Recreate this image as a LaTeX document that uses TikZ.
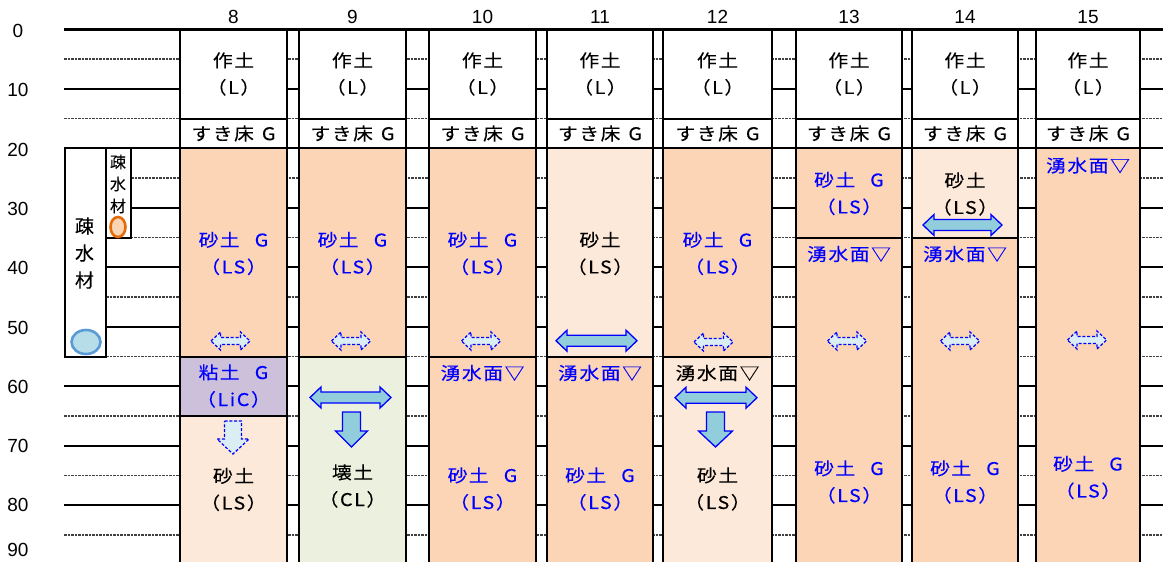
\documentclass[tikz,border=0pt]{standalone}
\usepackage{fontspec}
\setmainfont{Liberation Sans}
\newfontfamily\jp[FakeStretch=1.13,LetterSpace=9,FakeBold=0.15]{Noto Sans CJK JP}
\newfontfamily\jpv[FakeBold=0.15]{Noto Sans CJK JP}
\usetikzlibrary{shapes.geometric}
\definecolor{pkD}{HTML}{FBD5B5}
\definecolor{pkL}{HTML}{FDE9D9}
\definecolor{puC}{HTML}{CCC0DA}
\definecolor{grC}{HTML}{EBF1DE}
\definecolor{arF}{HTML}{92CDDC}
\definecolor{arL}{HTML}{DAEEF3}
\definecolor{bT}{HTML}{0000FF}
\definecolor{elB}{HTML}{5B9BD5}
\definecolor{elBf}{HTML}{B7DEE8}
\definecolor{elO}{HTML}{E36C09}
\definecolor{elOf}{HTML}{FBD4B4}
\newcommand\yd[1]{29.3+5.95*#1}
\newcommand\lay[5]{\filldraw[fill=#5,colline] (#1,{\yd{#3}}) rectangle (#2,{\yd{#4}});}
\newcommand\sG[1]{#1\hspace{15pt}G}
% double arrow: cx cy L H S headlen style
\newcommand\dbarrow[7]{\begin{scope}[shift={(#1,#2)}]\filldraw[#7] ({-#3/2},0) -- ({-#3/2+#6},{-#4/2}) -- ({-#3/2+#6},{-#5/2}) -- ({#3/2-#6},{-#5/2}) -- ({#3/2-#6},{-#4/2}) -- ({#3/2},0) -- ({#3/2-#6},{#4/2}) -- ({#3/2-#6},{#5/2}) -- ({-#3/2+#6},{#5/2}) -- ({-#3/2+#6},{#4/2}) -- cycle;\end{scope}}
% down arrow: cx cy W L S headlen style
\newcommand\dnarrow[7]{\begin{scope}[shift={(#1,#2)}]\filldraw[#7] ({-#5/2},{-#4/2}) -- ({#5/2},{-#4/2}) -- ({#5/2},{#4/2-#6}) -- ({#3/2},{#4/2-#6}) -- (0,{#4/2}) -- ({-#3/2},{#4/2-#6}) -- ({-#5/2},{#4/2-#6}) -- cycle;\end{scope}}
\begin{document}
\begin{tikzpicture}[x=1pt,y=-1pt,
  colline/.style={draw=black,line width=2pt},
  solidg/.style={draw=black,line width=2pt},
  dashg/.style={draw=black!75,line width=1.2pt,dash pattern=on 2.5pt off 1pt},
  lbl/.style={font=\fontsize{19}{19}\selectfont,inner sep=0pt},
  jt/.style={font=\jp\fontsize{17.5}{27}\selectfont,align=center,inner sep=0pt},
  jb/.style={jt,text=bT},
  solidarr/.style={draw=bT,fill=arF,line width=1.3pt,line join=miter},
  lightarr/.style={draw=bT,fill=arL,line width=1.2pt,dash pattern=on 3pt off 1.8pt}
]
\useasboundingbox (0,0) rectangle (1163,562);
% grid lines
\foreach \d in {10,20} {\draw[solidg] (64,{\yd{\d}}) -- (1163,{\yd{\d}});}
\foreach \d in {5,15} {\draw[dashg] (64,{\yd{\d}}) -- (1163,{\yd{\d}});}
\draw[dashg] (131,{\yd{25}}) -- (1163,{\yd{25}});
\draw[solidg] (131,{\yd{30}}) -- (1163,{\yd{30}});
\foreach \d in {35,45,55} {\draw[dashg] (106,{\yd{\d}}) -- (1163,{\yd{\d}});}
\foreach \d in {40,50} {\draw[solidg] (106,{\yd{\d}}) -- (1163,{\yd{\d}});}
\foreach \d in {60,70,80} {\draw[solidg] (64,{\yd{\d}}) -- (1163,{\yd{\d}});}
\foreach \d in {65,75,85} {\draw[dashg] (64,{\yd{\d}}) -- (1163,{\yd{\d}});}
% depth labels
\foreach \d in {0,10,...,80} {\node[lbl] (dep\d) at (18,{31+5.93*\d}) {\d};}
\node[lbl] (dep90) at (18,550) {90};
% top layers
\foreach \n/\l/\r in {8/180/287,9/299/406,10/429/536,11/547/653,12/663/772,13/796/902,14/912/1018,15/1036/1140}{
  \lay{\l}{\r}{0}{15}{white}
  \lay{\l}{\r}{15}{20}{white}
  \node[lbl] (c\n) at ({(\l+\r)/2},17) {\n};
  \node[jt] (s\n) at ({(\l+\r)/2},74) {作土\\（L）};
  \node[jt] (k\n) at ({(\l+\r)/2},133.5) {すき床\hspace{8pt}G};
}
\draw[line width=2.5pt] (64,{\yd{0}}) -- (1163,{\yd{0}});
% lower layers
\lay{180}{287}{20}{55}{pkD}\lay{180}{287}{55}{65}{puC}\lay{180}{287}{65}{90}{pkL}
\lay{299}{406}{20}{55}{pkD}\lay{299}{406}{55}{90}{grC}
\lay{429}{536}{20}{55}{pkD}\lay{429}{536}{55}{90}{pkD}
\lay{547}{653}{20}{55}{pkL}\lay{547}{653}{55}{90}{pkD}
\lay{663}{772}{20}{55}{pkD}\lay{663}{772}{55}{90}{pkL}
\lay{796}{902}{20}{35}{pkD}\lay{796}{902}{35}{90}{pkD}
\lay{912}{1018}{20}{35}{pkL}\lay{912}{1018}{35}{90}{pkD}
\lay{1036}{1140}{20}{90}{pkD}
% drainage material boxes
\filldraw[fill=white,colline] (65,{\yd{20}}) rectangle (105.5,{\yd{55}});
\filldraw[fill=white,colline] (105.5,{\yd{20}}) rectangle (131,{\yd{35}});
\node[font=\jpv\fontsize{19}{27}\selectfont,align=center,inner sep=0pt] (sb) at (84.5,253) {疎\\水\\材};
\node[font=\jpv\fontsize{16}{22}\selectfont,align=center,inner sep=0pt] (ss) at (118,184) {疎\\水\\材};
\node[ellipse,draw=elB,fill=elBf,line width=2.6pt,minimum width=29pt,minimum height=24pt,inner sep=0pt] (eb) at (86,342) {};
\node[ellipse,draw=elO,fill=elOf,line width=2.6pt,minimum width=15pt,minimum height=20pt,inner sep=0pt] (eo) at (118,227) {};
% texts column 8
\node[jb] (t8a) at (233.5,253.5) {\sG{砂土}\\（LS）};
\node[jb] (t8b) at (233.5,386) {\sG{粘土}\\（LiC）};
\node[jt] (t8c) at (233.5,489.5) {砂土\\（LS）};
% column 9
\node[jb] (t9a) at (352.5,253.5) {\sG{砂土}\\（LS）};
\node[jt] (t9b) at (352.5,486) {壊土\\（CL）};
% column 10
\node[jb] (t10a) at (482.5,253.5) {\sG{砂土}\\（LS）};
\node[jb] (t10w) at (482.5,373) {湧水面▽};
\node[jb] (t10b) at (482.5,489) {\sG{砂土}\\（LS）};
% column 11
\node[jt] (t11a) at (600,253.5) {砂土\\（LS）};
\node[jb] (t11w) at (600,373) {湧水面▽};
\node[jb] (t11b) at (600,489) {\sG{砂土}\\（LS）};
% column 12
\node[jb] (t12a) at (717.5,253.5) {\sG{砂土}\\（LS）};
\node[jt] (t12w) at (717.5,373) {湧水面▽};
\node[jt] (t12b) at (717.5,489) {砂土\\（LS）};
% column 13
\node[jb] (t13a) at (849,193.5) {\sG{砂土}\\（LS）};
\node[jb] (t13w) at (849,254) {湧水面▽};
\node[jb] (t13b) at (849,482) {\sG{砂土}\\（LS）};
% column 14
\node[jt] (t14a) at (965,194) {砂土\\（LS）};
\node[jb] (t14w) at (965,254) {湧水面▽};
\node[jb] (t14b) at (965,482) {\sG{砂土}\\（LS）};
% column 15
\node[jb] (t15w) at (1088,165.5) {湧水面▽};
\node[jb] (t15b) at (1088,477.5) {\sG{砂土}\\（LS）};
% light (dashed) arrows
\foreach \x/\y in {230.5/341,351/341,481/341,713.5/342,847/341,960/341,1087/340}
  {\dbarrow{\x}{\y}{39}{18}{7}{9.5}{lightarr}}
\dnarrow{233}{437.5}{32}{33}{17}{15}{lightarr}
% solid arrows
\dbarrow{350.5}{397.5}{81}{21}{11}{11}{solidarr}
\dnarrow{351.5}{429.5}{32}{35}{18}{16}{solidarr}
\dbarrow{596.5}{340.7}{81}{21}{11}{11}{solidarr}
\dbarrow{716}{397.7}{82}{21}{11}{11}{solidarr}
\dnarrow{715.5}{429.5}{34}{35}{18}{16}{solidarr}
\dbarrow{962.5}{225}{79}{21}{11}{11}{solidarr}
\end{tikzpicture}
\end{document}
